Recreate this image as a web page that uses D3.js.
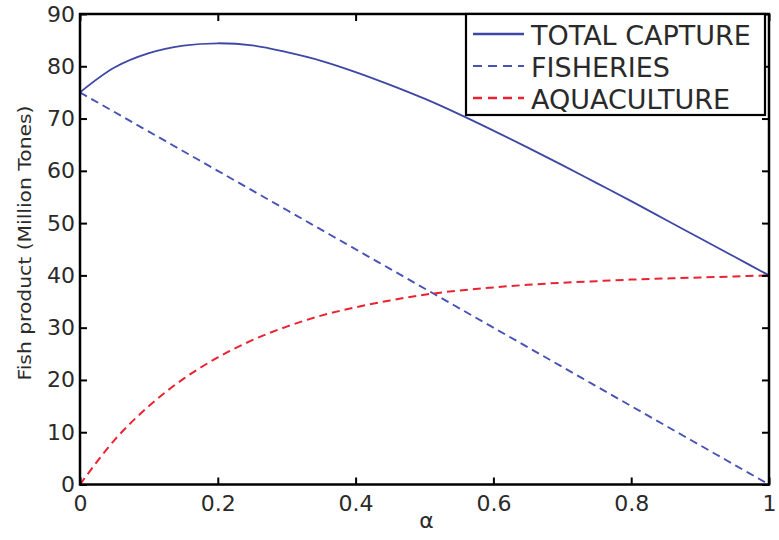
<!DOCTYPE html>
<html><head><meta charset="utf-8">
<script src="https://cdn.jsdelivr.net/npm/d3@7"></script>
<style>body{margin:0;background:#fff}</style></head><body>
<svg id="c" width="779" height="540"></svg>
<script>
const alpha = [0,0.05,0.1,0.15,0.2,0.25,0.3,0.35,0.4,0.45,0.5,0.55,0.6,0.65,0.7,0.75,0.8,0.85,0.9,0.95,1];
const totalCapture = [75,79.75,82.5,83.95,84.4,84.0,82.7,81.05,78.9,76.45,73.8,70.85,67.7,64.45,61.1,57.65,54.2,50.65,47.1,43.55,40];
const fisheries = [75,71.25,67.5,63.75,60,56.25,52.5,48.75,45,41.25,37.5,33.75,30,26.25,22.5,18.75,15,11.25,7.5,3.75,0];
const aquaculture = [0,8.5,15.0,20.2,24.3,27.6,30.2,32.3,33.9,35.2,36.3,37.1,37.7,38.2,38.6,38.9,39.2,39.4,39.6,39.8,40];
const xTicks = [0,0.2,0.4,0.6,0.8,1];
const xTickLabels = ["0","0.2","0.4","0.6","0.8","1"];
const yTicks = [0,10,20,30,40,50,60,70,80,90];
const seriesNames = ["TOTAL CAPTURE","FISHERIES","AQUACULTURE"];
const xLabel = "α";
const yLabel = "Fish product (Million Tones)";

const svg = d3.select("#c");
const L = 80, R = 769, T = 14, B = 484.5;
const x = d3.scaleLinear().domain([0,1]).range([L,R]);
const y = d3.scaleLinear().domain([0,90]).range([B,T]);
const font = "'DejaVu Sans', sans-serif";
const txt = "#2a2a2a";

const series = [
  {name: seriesNames[0], values: totalCapture, color: "#3d47a6", dash: null, w: 1.8, lw: 2.6},
  {name: seriesNames[1], values: fisheries, color: "#4652b4", dash: "8,5", w: 1.9, lw: 1.9},
  {name: seriesNames[2], values: aquaculture, color: "#ec2231", dash: "8,5", w: 2.0, lw: 2.6}
];

const line = d3.line().x((d,i)=>x(alpha[i])).y(d=>y(d)).curve(d3.curveCatmullRom.alpha(0.5));
series.forEach(s=>{
  svg.append("path").attr("d", line(s.values)).attr("fill","none")
    .attr("stroke", s.color).attr("stroke-width", s.w)
    .attr("stroke-dasharray", s.dash);
});

// axes
function styleAxis(g){
  g.select(".domain").remove();
  g.selectAll(".tick line").attr("stroke","#000").attr("stroke-width",2);
  g.selectAll(".tick text").attr("fill",txt).style("font-family",font).style("font-size","22px");
}
svg.append("g").attr("transform",`translate(${L},0)`)
  .call(d3.axisLeft(y).tickValues(yTicks).tickSize(-7).tickPadding(5).tickFormat(d3.format("d")))
  .call(styleAxis);
svg.append("g").attr("transform",`translate(0,${B})`)
  .call(d3.axisBottom(x).tickValues(xTicks).tickSize(-7).tickPadding(11).tickFormat((d,i)=>xTickLabels[i]))
  .call(styleAxis);
svg.append("g").attr("transform",`translate(${R},0)`)
  .call(d3.axisRight(y).tickValues(yTicks).tickSize(-7).tickFormat(""))
  .call(styleAxis);
svg.append("g").attr("transform",`translate(0,${T})`)
  .call(d3.axisTop(x).tickValues(xTicks).tickSize(-7).tickFormat(""))
  .call(styleAxis);

svg.append("rect").attr("x",L).attr("y",T).attr("width",R-L).attr("height",B-T)
  .attr("fill","none").attr("stroke","#000").attr("stroke-width",2.5);

// labels
svg.append("text").attr("x",(L+R)/2+2).attr("y",528).attr("text-anchor","middle")
  .attr("fill",txt).style("font-family",font).style("font-size","22px").text(xLabel);
svg.append("text").attr("transform","translate(31,243) rotate(-90)").attr("text-anchor","middle")
  .attr("fill",txt).style("font-family",font).style("font-size","18px")
  .attr("textLength",275).attr("lengthAdjust","spacingAndGlyphs").text(yLabel);

// legend
const lg = svg.append("g");
lg.append("rect").attr("x",466).attr("y",T).attr("width",299).attr("height",101)
  .attr("fill","#fff").attr("stroke","#000").attr("stroke-width",2.2);
series.forEach((s,i)=>{
  const yy = 34 + i*32;
  lg.append("line").attr("x1",473).attr("x2",524).attr("y1",yy).attr("y2",yy)
    .attr("stroke",s.color).attr("stroke-width",s.lw).attr("stroke-dasharray",s.dash ? "9,6" : null);
  lg.append("text").attr("x",531).attr("y",yy+11).attr("fill",txt)
    .style("font-family",font).style("font-size","27px").text(s.name);
});
</script>
</body></html>
